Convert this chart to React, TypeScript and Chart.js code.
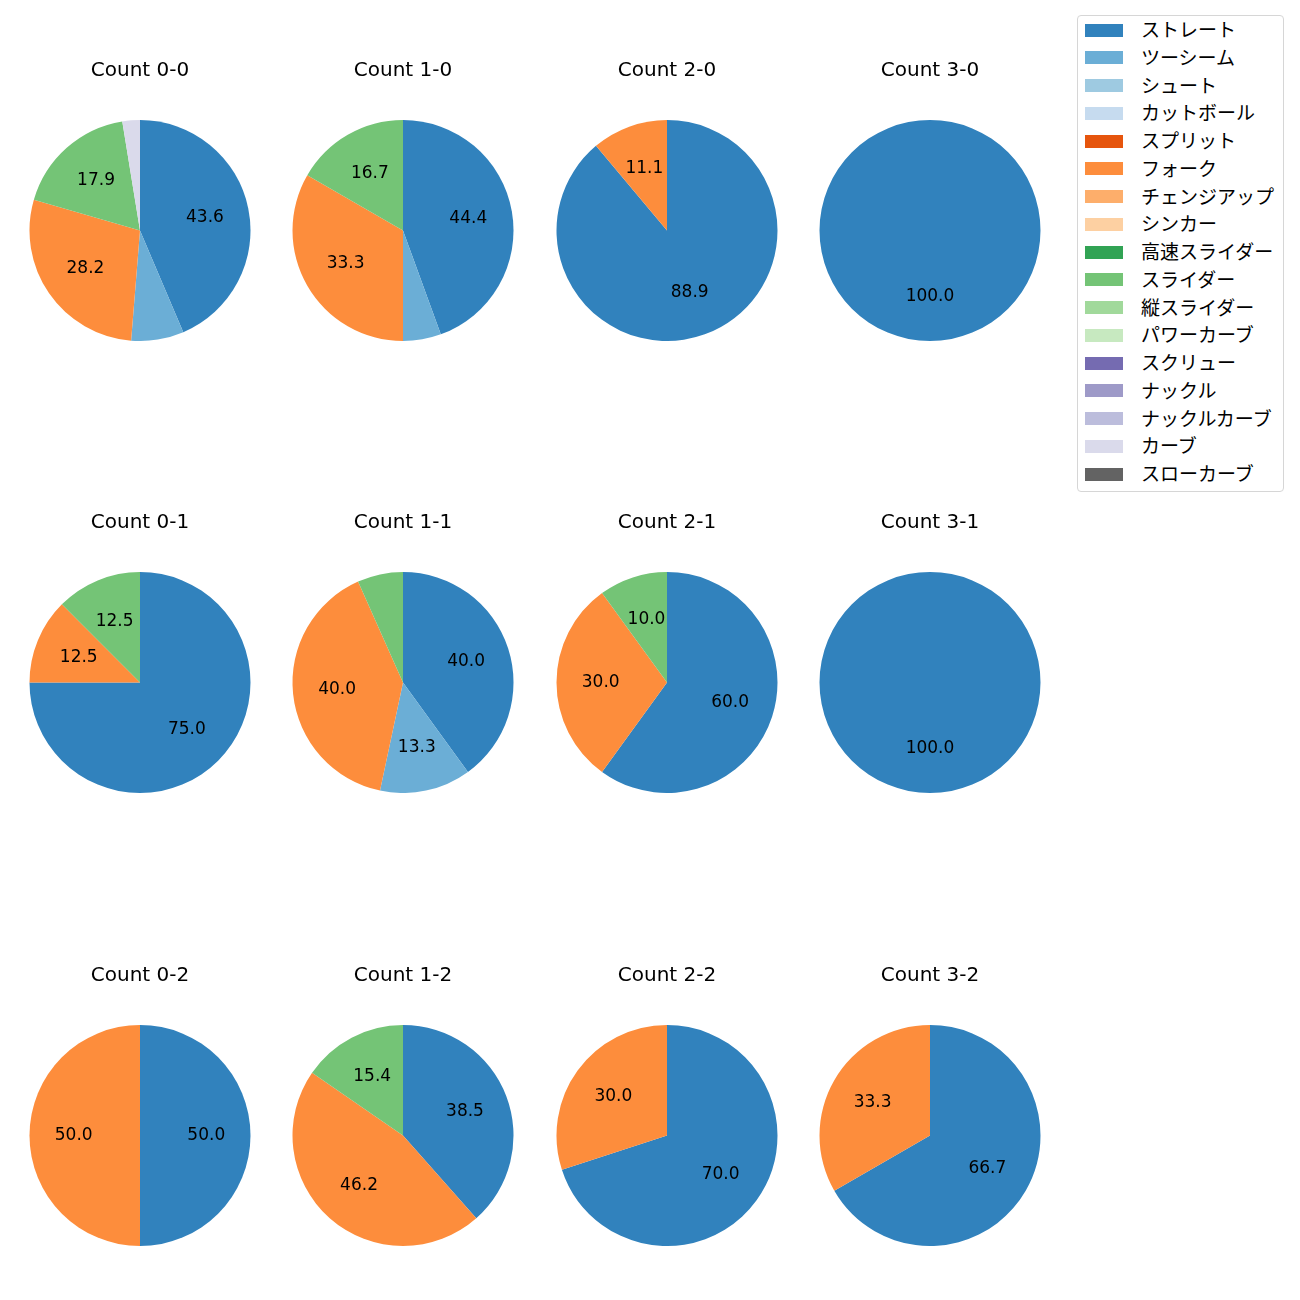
import React, { useEffect, useRef } from "react";
import { Chart, registerables } from "chart.js";

Chart.register(...registerables);

const pitchTypes = [
  "ストレート", "ツーシーム", "シュート", "カットボール", "スプリット", "フォーク",
  "チェンジアップ", "シンカー", "高速スライダー", "スライダー", "縦スライダー",
  "パワーカーブ", "スクリュー", "ナックル", "ナックルカーブ", "カーブ", "スローカーブ",
];

const pitchColors = [
  "#3182bd", "#6baed6", "#9ecae1", "#c6dbef", "#e6550d", "#fd8d3c",
  "#fdae6b", "#fdd0a2", "#31a354", "#74c476", "#a1d99b", "#c7e9c0",
  "#756bb1", "#9e9ac8", "#bcbddc", "#dadaeb", "#636363",
];

const countLabels = [
  "Count 0-0", "Count 1-0", "Count 2-0", "Count 3-0",
  "Count 0-1", "Count 1-1", "Count 2-1", "Count 3-1",
  "Count 0-2", "Count 1-2", "Count 2-2", "Count 3-2",
];

// pitch counts per ball-strike count, in pitchTypes order
const count00 = [17, 3, 0, 0, 0, 11, 0, 0, 0, 7, 0, 0, 0, 0, 0, 1, 0];
const count10 = [8, 1, 0, 0, 0, 6, 0, 0, 0, 3, 0, 0, 0, 0, 0, 0, 0];
const count20 = [8, 0, 0, 0, 0, 1, 0, 0, 0, 0, 0, 0, 0, 0, 0, 0, 0];
const count30 = [1, 0, 0, 0, 0, 0, 0, 0, 0, 0, 0, 0, 0, 0, 0, 0, 0];
const count01 = [6, 0, 0, 0, 0, 1, 0, 0, 0, 1, 0, 0, 0, 0, 0, 0, 0];
const count11 = [6, 2, 0, 0, 0, 6, 0, 0, 0, 1, 0, 0, 0, 0, 0, 0, 0];
const count21 = [6, 0, 0, 0, 0, 3, 0, 0, 0, 1, 0, 0, 0, 0, 0, 0, 0];
const count31 = [1, 0, 0, 0, 0, 0, 0, 0, 0, 0, 0, 0, 0, 0, 0, 0, 0];
const count02 = [1, 0, 0, 0, 0, 1, 0, 0, 0, 0, 0, 0, 0, 0, 0, 0, 0];
const count12 = [5, 0, 0, 0, 0, 6, 0, 0, 0, 2, 0, 0, 0, 0, 0, 0, 0];
const count22 = [7, 0, 0, 0, 0, 3, 0, 0, 0, 0, 0, 0, 0, 0, 0, 0, 0];
const count32 = [2, 0, 0, 0, 0, 1, 0, 0, 0, 0, 0, 0, 0, 0, 0, 0, 0];

const countData = [
  count00, count10, count20, count30,
  count01, count11, count21, count31,
  count02, count12, count22, count32,
];

const minLabelPct = 10;

const FONT = '"DejaVu Sans", "Noto Sans CJK JP", sans-serif';

const colX = [140, 403, 667, 930];
const rowY = [230, 682, 1135];
const R = 110;

const pctPlugin = {
  id: "pctLabels",
  afterDatasetsDraw(chart: any) {
    const ctx = chart.ctx;
    const meta = chart.getDatasetMeta(0);
    const data = chart.data.datasets[0].data as number[];
    const total = data.reduce((a, b) => a + b, 0);
    ctx.save();
    ctx.fillStyle = "#000";
    ctx.font = `17px ${FONT}`;
    ctx.textAlign = "center";
    ctx.textBaseline = "middle";
    meta.data.forEach((arc: any, i: number) => {
      const pct = (data[i] / total) * 100;
      if (pct < minLabelPct) return;
      const p = arc.getProps(["x", "y", "startAngle", "endAngle", "outerRadius"], true);
      const mid = (p.startAngle + p.endAngle) / 2;
      const r = p.outerRadius * 0.6;
      ctx.fillText(pct.toFixed(1), p.x + Math.cos(mid) * r, p.y + Math.sin(mid) * r);
    });
    ctx.restore();
  },
};

function PieCell({ idx }: { idx: number }) {
  const ref = useRef<HTMLCanvasElement | null>(null);
  const col = idx % 4;
  const row = Math.floor(idx / 4);
  const cx = colX[col];
  const cy = rowY[row];
  const top = cy - 190;
  const width = 2 * R + 20;
  const height = 190 + R + 1;
  useEffect(() => {
    if (!ref.current) return;
    const chart = new Chart(ref.current, {
      type: "pie",
      data: {
        labels: pitchTypes,
        datasets: [
          {
            data: countData[idx],
            backgroundColor: pitchColors,
            borderWidth: 0,
          },
        ],
      },
      options: {
        animation: false,
        responsive: false,
        maintainAspectRatio: false,
        layout: { padding: 0 },
        plugins: {
          legend: { display: false },
          tooltip: { enabled: false },
          title: {
            display: true,
            text: countLabels[idx],
            color: "#000",
            font: { family: FONT, size: 20, weight: "normal", lineHeight: 1.2 },
            padding: { top: 19, bottom: 37 },
          },
        },
      },
      plugins: [pctPlugin],
    });
    return () => chart.destroy();
  }, [idx]);
  return (
    <canvas
      ref={ref}
      width={width}
      height={height}
      style={{ position: "absolute", left: cx - width / 2, top, width, height }}
    />
  );
}

export default function App() {
  return (
    <div style={{ position: "absolute", left: 0, top: 0, width: 1300, height: 1300, background: "#fff" }}>
      {countLabels.map((_, i) => (
        <PieCell key={i} idx={i} />
      ))}
      <div
        style={{
          position: "absolute",
          left: 1077,
          top: 15,
          width: 207,
          height: 477,
          border: "1px solid #d6d6d6",
          borderRadius: 4,
          boxSizing: "border-box",
          fontFamily: FONT,
          fontSize: 19,
          color: "#000",
        }}
      >
        {pitchTypes.map((name, i) => (
          <div
            key={name}
            style={{ position: "absolute", left: 7, top: 14 + i * 27.75 - 14, height: 28, display: "flex", alignItems: "center" }}
          >
            <span style={{ display: "inline-block", width: 38, height: 13, background: pitchColors[i] }} />
            <span style={{ marginLeft: 18, whiteSpace: "nowrap", lineHeight: "28px" }}>{name}</span>
          </div>
        ))}
      </div>
    </div>
  );
}
